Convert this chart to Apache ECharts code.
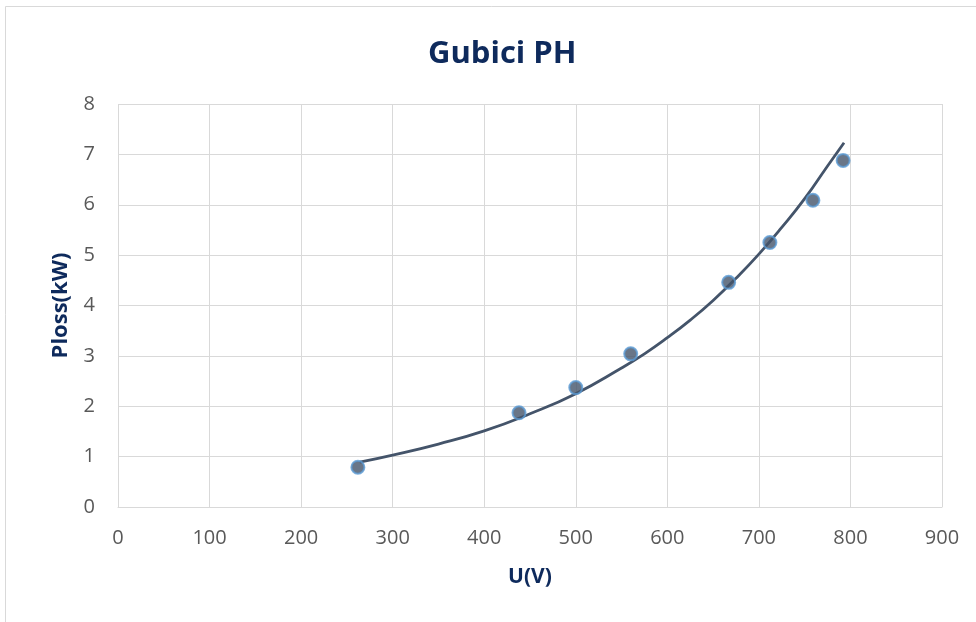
<!DOCTYPE html>
<html>
<head>
<meta charset="utf-8">
<script src="https://cdn.jsdelivr.net/npm/echarts@6/dist/echarts.min.js"></script>
<style>
  html, body { margin: 0; padding: 0; background: #fff; }
  #chart { width: 976px; height: 622px; }
</style>
</head>
<body>
<div id="chart"></div>
<script>
// measured points
const voltage = [262, 438, 500, 560, 667, 712, 759, 792]
const ploss = [0.79, 1.87, 2.37, 3.04, 4.46, 5.25, 6.09, 6.88]

// trend line
const trendU = [264, 300, 350, 400, 450, 500, 550, 575, 600, 625, 650, 675, 700, 725, 750, 775, 793]
const trendP = [0.89, 1.03, 1.25, 1.51, 1.85, 2.25, 2.76, 3.04, 3.36, 3.71, 4.1, 4.54, 5.02, 5.55, 6.12, 6.77, 7.23]

const navy = '#0e2a5c'
const gridColor = '#d9d9d9'
const labelColor = '#595959'
const fontFamily = '"Open Sans", Lato, sans-serif'

const chart = echarts.init(document.getElementById('chart'), null, { renderer: 'canvas' })

chart.setOption({
  backgroundColor: '#fff',
  animation: false,
  textStyle: { fontFamily },
  title: {
    text: 'Gubici PH',
    left: 423,
    top: 34,
    textStyle: { color: navy, fontSize: 31, fontWeight: 'bold', fontFamily },
  },
  graphic: [{
    type: 'rect',
    shape: { x: 5.5, y: 6.5, width: 1000, height: 700 },
    style: { fill: 'none', stroke: gridColor, lineWidth: 1 },
    silent: true,
  }],
  grid: { left: 118, right: 34, top: 104, bottom: 115 },
  xAxis: {
    type: 'value',
    min: 0,
    max: 900,
    interval: 100,
    name: 'U(V)',
    nameLocation: 'middle',
    nameGap: 60,
    nameTextStyle: { color: navy, fontSize: 21, fontWeight: 'bold', fontFamily },
    axisLine: { show: true, lineStyle: { color: gridColor, width: 1 } },
    axisTick: { show: false },
    axisLabel: { color: labelColor, fontSize: 20, margin: 21 },
    splitLine: { show: true, lineStyle: { color: gridColor, width: 1 } },
  },
  yAxis: {
    type: 'value',
    min: 0,
    max: 8,
    interval: 1,
    name: 'Ploss(kW)',
    nameLocation: 'middle',
    nameGap: 46,
    nameTextStyle: { color: navy, fontSize: 22, fontWeight: 'bold', fontFamily },
    axisLine: { show: false },
    axisTick: { show: false },
    axisLabel: { color: labelColor, fontSize: 20, margin: 23 },
    splitLine: { show: true, lineStyle: { color: gridColor, width: 1 } },
  },
  series: [
    {
      name: 'trend',
      type: 'line',
      data: trendU.map((u, i) => [u, trendP[i]]),
      smooth: true,
      symbol: 'none',
      lineStyle: { color: '#44546a', width: 2.8 },
      z: 2,
    },
    {
      name: 'Ploss',
      type: 'scatter',
      data: voltage.map((u, i) => [u, ploss[i]]),
      symbol: 'circle',
      symbolSize: 13,
      itemStyle: { color: '#44546a', borderColor: '#5b9bd5', borderWidth: 2 },
      z: 3,
    },
  ],
})
</script>
</body>
</html>
